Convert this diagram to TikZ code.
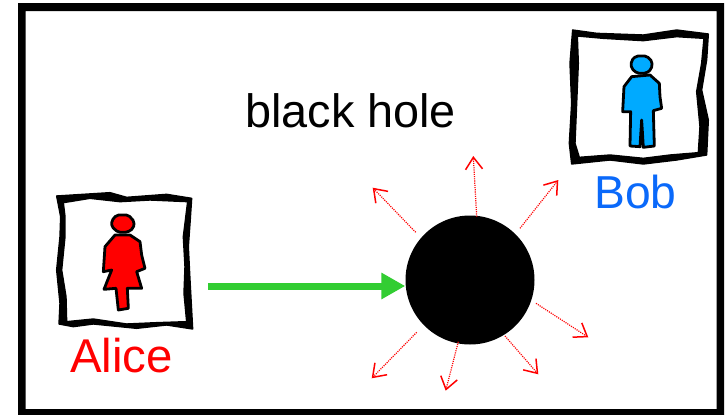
\documentclass[tikz,border=0pt]{standalone}
\usepackage{fontspec}
\setmainfont{Liberation Sans}
\usetikzlibrary{arrows.meta}
\definecolor{bobtext}{RGB}{10,105,250}
\definecolor{bobfill}{RGB}{0,170,255}
\definecolor{arrowgreen}{RGB}{50,205,50}
\tikzset{
  label text/.style={anchor=base west,inner sep=0pt,font=\fontsize{#1}{50}\selectfont},
  figure ink/.style={draw=black,line width=2.8pt,line join=round},
  ray/.style={red,line width=1.2pt,dash pattern=on 1.1pt off 1.1pt,-{Straight Barb[length=12pt,width=17pt,line width=1.5pt]}},
  frame ink/.style={fill=black,even odd rule,draw=black,line width=1.4pt,line join=round},
  zoomed/.style 2 args={x=0.33333pt,y=-0.33333pt,shift={(#1,#2)}}
}
\begin{document}
\begin{tikzpicture}[x=1pt,y=-1pt]
\useasboundingbox (0,0) rectangle (726,415);
\fill[white] (0,0) rectangle (726,415);
\begin{scope}
\clip (0,0) rectangle (726,415);
\fill[black,even odd rule] (18,3) rectangle (724,420) (25.5,11) rectangle (716.5,409);
\end{scope}
% Alice frame
\begin{scope}[zoomed={120}{540}]
\path[frame ink] (50,48)--(130,43)--(210,38)--(260,52)--(380,43)--(455,55)--(450,130)--(445,200)--(450,300)--(458,447)--(380,435)--(290,445)--(160,432)--(100,440)--(57,432)--(60,370)--(50,270)--(60,170)--(62,110)--cycle
 (70,68)--(150,55)--(240,65)--(330,60)--(443,65)--(430,170)--(435,260)--(432,340)--(440,425)--(350,428)--(260,432)--(160,417)--(80,425)--(78,350)--(65,270)--(75,170)--(75,110)--cycle;
\draw[figure ink,fill=red] (225,165)--(270,165)--(300,185)--(305,225)--(315,265)--(290,275)--(305,325)--(262,325)--(265,385)--(235,390)--(228,325)--(192,328)--(215,270)--(190,275)--(195,200)--cycle;
\draw[figure ink,fill=red,rounded corners=2pt] (230,105)--(265,105)--(283,125)--(280,145)--(262,157)--(235,157)--(215,140)--(215,122)--cycle;
\end{scope}
% Bob frame
\begin{scope}[zoomed={1680}{60}]
\path[frame ink] (38,30)--(110,40)--(250,45)--(350,30)--(445,42)--(440,120)--(425,210)--(445,300)--(440,405)--(350,420)--(250,432)--(150,420)--(35,432)--(28,370)--(35,250)--(30,130)--cycle
 (52,48)--(130,55)--(250,62)--(350,50)--(432,55)--(425,130)--(410,215)--(420,320)--(415,398)--(330,405)--(250,415)--(150,405)--(58,412)--(45,370)--(50,250)--(55,130)--cycle;
\draw[figure ink,fill=bobfill] (215,170)--(270,165)--(298,190)--(300,230)--(305,265)--(280,272)--(283,378)--(250,382)--(245,300)--(240,380)--(210,378)--(212,275)--(188,275)--(192,200)--cycle;
\draw[figure ink,fill=bobfill,rounded corners=2pt] (228,108)--(260,108)--(277,125)--(274,148)--(258,160)--(232,160)--(214,145)--(214,122)--cycle;
\end{scope}
% labels
\node[label text=46.8] (title) at (245,127) {black hole};
\node[label text=47.4,text=red] (alice) at (70,372) {Alice};
\node[label text=46.2,text=bobtext] (bob) at (594,208) {Bob};
% black hole
\node[circle,fill=black,minimum size=129pt,inner sep=0pt] (bh) at (470,280) {};
% coordinates
\coordinate (gs) at (208,286);
\coordinate (s1) at (476.7,216.7); \coordinate (e1) at (473.3,156);
\coordinate (s2) at (520,228.3);   \coordinate (e2) at (558.3,180);
\coordinate (s3) at (415.7,232.3); \coordinate (e3) at (372.7,187.7);
\coordinate (s4) at (536,303.3);   \coordinate (e4) at (588.3,337.3);
\coordinate (s5) at (505,336);     \coordinate (e5) at (538.3,374.3);
\coordinate (s6) at (458.3,341.7); \coordinate (e6) at (445.7,390.7);
\coordinate (s7) at (416.7,332.3); \coordinate (e7) at (371.7,378.3);
% connectors
\draw[arrowgreen,line width=7pt,-{Triangle[length=24pt,width=25pt]}] (gs) -- (bh.west |- gs);
\foreach \i in {1,...,7} \draw[ray] (s\i) -- (e\i);
\end{tikzpicture}
\end{document}
